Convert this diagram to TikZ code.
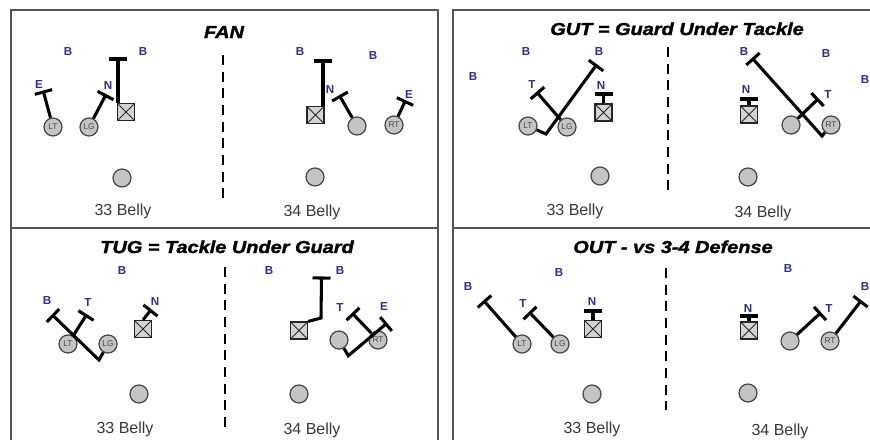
\documentclass[tikz,border=0pt]{standalone}
\usepackage{fontspec}
\setmainfont{Liberation Sans}
\newfontfamily\heavyfont[BoldItalicFeatures={FakeBold=1.6}]{Liberation Sans}
\usetikzlibrary{calc}

\definecolor{defblue}{HTML}{2B2F8F}
\definecolor{framegray}{HTML}{555555}
\definecolor{manfill}{HTML}{C4C4C4}
\definecolor{manline}{HTML}{454545}

% perpendicular block bar at the end #1 of a line coming from #2
\newcommand\blockbar[2]{\draw[blk] ($(#1)!6.75pt!90:(#2)$) -- ($(#1)!6.75pt!-90:(#2)$);}

\tikzset{
  frame/.style={draw=framegray, line width=1.4pt},
  man/.style={circle, draw=manline, fill=manfill, line width=0.9pt,
    minimum size=13.5pt, inner sep=0pt, text=manline,
    font=\fontsize{6.2}{6.2}\selectfont},
  ctr/.style={rectangle, draw=black!85, fill=manfill!75, line width=0.9pt,
    minimum size=12.75pt, inner sep=0pt,
    path picture={\draw[line width=0.7pt, black!85]
      (path picture bounding box.north west) -- (path picture bounding box.south east)
      (path picture bounding box.north east) -- (path picture bounding box.south west);}},
  dlab/.style={text=defblue, font=\bfseries\fontsize{8.7}{9}\selectfont, inner sep=0pt},
  play/.style={text=black!78, font=\fontsize{12}{13}\selectfont, anchor=base, inner sep=0pt},
  ttl/.style={font=\heavyfont\bfseries\itshape\fontsize{13}{14}\selectfont, anchor=base, inner sep=0pt},
  blk/.style={line width=2.3pt, black},
  divline/.style={black, line width=1.1pt, dash pattern=on 7.5pt off 5pt},
}

\begin{document}
\begin{tikzpicture}[x=0.75pt, y=-0.75pt]
\useasboundingbox (0,0) rectangle (870,439);
\clip (0,0) rectangle (870,439);
\fill[white] (0,0) rectangle (870,439);

% panel frames
\draw[frame] (11,10) rectangle (438,228);
\draw[frame] (11,228) rectangle (438,460);
\draw[frame] (453,10) rectangle (890,228);
\draw[frame] (453,228) rectangle (890,460);

% ---------------- FAN ----------------
\node[ttl] (fanT) at (224,38) {\scalebox{1.15}[1]{FAN}};
\draw[divline] (223,55) -- (223,203);
\node[dlab] (fB1) at (68,52) {B};
\node[dlab] (fB2) at (143,52) {B};
\node[dlab] (fE1) at (39,85) {E};
\node[dlab] (fN1) at (108,86) {N};
\node[dlab] (fB3) at (300,52) {B};
\node[dlab] (fB4) at (373,56) {B};
\node[dlab] (fN2) at (330,90) {N};
\node[dlab] (fE2) at (409,95) {E};

\node[man] (fLT) at (53,127) {LT};
\node[man] (fLG) at (89,127) {LG};
\node[man] (fBk1) at (122,178) {};
\node[ctr] (fC1) at (126,112) {};
\node[man] (fRG) at (357,126) {};
\node[man] (fRT) at (394,125) {RT};
\node[man] (fBk2) at (315,177) {};
\node[ctr] (fC2) at (315.5,115) {};

\coordinate (fE1b) at (43.5,92);
\coordinate (fN1b) at (105.5,95.5);
\coordinate (fC1b) at (118,59);
\coordinate (fC1s) at (fC1b |- fC1.north);
\coordinate (fN2b) at (340,96.5);
\coordinate (fE2b) at (405,101.5);
\coordinate (fC2b) at (323,61);
\coordinate (fC2s) at (fC2b |- fC2.north);

\draw[blk] (fLT) -- (fE1b); \blockbar{fE1b}{fLT}
\draw[blk] (fLG) -- (fN1b); \blockbar{fN1b}{fLG}
\draw[blk] (fC1s) -- (fC1b); \blockbar{fC1b}{fC1s}
\draw[blk] (fRG) -- (fN2b); \blockbar{fN2b}{fRG}
\draw[blk] (fRT) -- (fE2b); \blockbar{fE2b}{fRT}
\draw[blk] (fC2s) -- (fC2b); \blockbar{fC2b}{fC2s}

\node[play] (fP1) at (123,215) {33 Belly};
\node[play] (fP2) at (312,216) {34 Belly};

% ---------------- GUT ----------------
\node[ttl] (gutT) at (677,35) {\scalebox{1.15}[1]{GUT = Guard Under Tackle}};
\draw[divline] (668,47) -- (668,197);
\node[dlab] (gB1) at (473,77) {B};
\node[dlab] (gB2) at (526,52) {B};
\node[dlab] (gB3) at (599,52) {B};
\node[dlab] (gT1) at (532,85) {T};
\node[dlab] (gN1) at (601,86) {N};
\node[dlab] (gB4) at (744,52) {B};
\node[dlab] (gB5) at (826,54) {B};
\node[dlab] (gN2) at (746,90) {N};
\node[dlab] (gT2) at (828,95) {T};
\node[dlab] (gB6) at (865,80) {B};

\node[man] (gLT) at (528,126) {LT};
\node[man] (gLG) at (567,127) {LG};
\node[man] (gBk1) at (600,176) {};
\node[ctr] (gC1) at (603.5,112.5) {};
\node[man] (gRG) at (791,125) {};
\node[man] (gRT) at (831,125) {RT};
\node[man] (gBk2) at (748,177) {};
\node[ctr] (gC2) at (749,114.5) {};

\coordinate (gV1) at (546,134);
\coordinate (gB2b) at (596,65.5);
\coordinate (gT1b) at (537.5,93);
\coordinate (gN1b) at (603.5,94);
\coordinate (gV2) at (822,136);
\coordinate (gB4b) at (753,59);
\coordinate (gT2b) at (817.5,99.5);
\coordinate (gN2b) at (749,99);

\draw[blk] (gLT) -- (gV1) -- (gB2b); \blockbar{gB2b}{gV1}
\draw[blk] (gLG) -- (gT1b); \blockbar{gT1b}{gLG}
\draw[blk] (gC1.north) -- (gN1b); \blockbar{gN1b}{gC1.north}
\draw[blk] (gRT) -- (gV2) -- (gB4b); \blockbar{gB4b}{gV2}
\draw[blk] (gRG) -- (gT2b); \blockbar{gT2b}{gRG}
\draw[blk] (gC2.north) -- (gN2b); \blockbar{gN2b}{gC2.north}

\node[play] (gP1) at (575,215) {33 Belly};
\node[play] (gP2) at (763,217) {34 Belly};

% ---------------- TUG ----------------
\node[ttl] (tugT) at (227,253) {\scalebox{1.15}[1]{TUG = Tackle Under Guard}};
\draw[divline] (225,267) -- (225,427);
\node[dlab] (tB1) at (122,271) {B};
\node[dlab] (tB2) at (47,301) {B};
\node[dlab] (tT1) at (88,303) {T};
\node[dlab] (tN1) at (155,302) {N};
\node[dlab] (tB3) at (269,271) {B};
\node[dlab] (tB4) at (340,271) {B};
\node[dlab] (tT2) at (340,308) {T};
\node[dlab] (tE2) at (384,307) {E};

\node[man] (tLT) at (68,344) {LT};
\node[man] (tLG) at (108,344) {LG};
\node[man] (tBk1) at (139,394) {};
\node[ctr] (tC1) at (143,329) {};
\node[man] (tRG) at (339,340) {};
\node[man] (tRT) at (378,340) {RT};
\node[man] (tBk2) at (299,394) {};
\node[ctr] (tC2) at (299,330.5) {};

\coordinate (tV1) at (99,360);
\coordinate (tB2b) at (53,315.5);
\coordinate (tT1b) at (86,315.5);
\coordinate (tN1b) at (150.5,310.5);
\coordinate (tV2) at (321,318);
\coordinate (tB4b) at (321.5,278);
\coordinate (tV3) at (348.3,355.7);
\coordinate (tE2b) at (386,324);
\coordinate (tT2b) at (353,314);

\draw[blk] (tLG) -- (tV1) -- (tB2b); \blockbar{tB2b}{tV1}
\draw[blk] (tLT) -- (tT1b); \blockbar{tT1b}{tLT}
\draw[blk] (tC1.north) -- (tN1b); \blockbar{tN1b}{tC1.north}
\draw[blk] (tC2.north east) -- (tV2) -- (tB4b); \blockbar{tB4b}{tV2}
\draw[blk] (tRG) -- (tV3) -- (tE2b); \blockbar{tE2b}{tV3}
\draw[blk] (tRT) -- (tT2b); \blockbar{tT2b}{tRT}

\node[play] (tP1) at (125,433) {33 Belly};
\node[play] (tP2) at (312,434) {34 Belly};

% ---------------- OUT ----------------
\node[ttl] (outT) at (673,253) {\scalebox{1.15}[1]{OUT - vs 3-4 Defense}};
\draw[divline] (666,268) -- (666,410);
\node[dlab] (oB1) at (559,273) {B};
\node[dlab] (oB2) at (468,287) {B};
\node[dlab] (oT1) at (523,304) {T};
\node[dlab] (oN1) at (592,302) {N};
\node[dlab] (oB3) at (788,269) {B};
\node[dlab] (oN2) at (748,309) {N};
\node[dlab] (oT2) at (829,309) {T};
\node[dlab] (oB4) at (865,287) {B};

\node[man] (oLT) at (522,344) {LT};
\node[man] (oLG) at (560,344) {LG};
\node[man] (oBk1) at (592,394) {};
\node[ctr] (oC1) at (593,329) {};
\node[man] (oRG) at (790,341) {};
\node[man] (oRT) at (830,341) {RT};
\node[man] (oBk2) at (748,393) {};
\node[ctr] (oC2) at (749,330.5) {};

\coordinate (oB2b) at (484.5,301.5);
\coordinate (oT1b) at (530,313);
\coordinate (oN1b) at (593,311);
\coordinate (oN2b) at (749,316);
\coordinate (oT2b) at (820,313.5);
\coordinate (oB4b) at (860.5,301.5);

\draw[blk] (oLT) -- (oB2b); \blockbar{oB2b}{oLT}
\draw[blk] (oLG) -- (oT1b); \blockbar{oT1b}{oLG}
\draw[blk] (oC1.north) -- (oN1b); \blockbar{oN1b}{oC1.north}
\draw[blk] (oC2.north) -- (oN2b); \blockbar{oN2b}{oC2.north}
\draw[blk] (oRG) -- (oT2b); \blockbar{oT2b}{oRG}
\draw[blk] (oRT) -- (oB4b); \blockbar{oB4b}{oRT}

\node[play] (oP1) at (592,433) {33 Belly};
\node[play] (oP2) at (780,435) {34 Belly};
\end{tikzpicture}
\end{document}
